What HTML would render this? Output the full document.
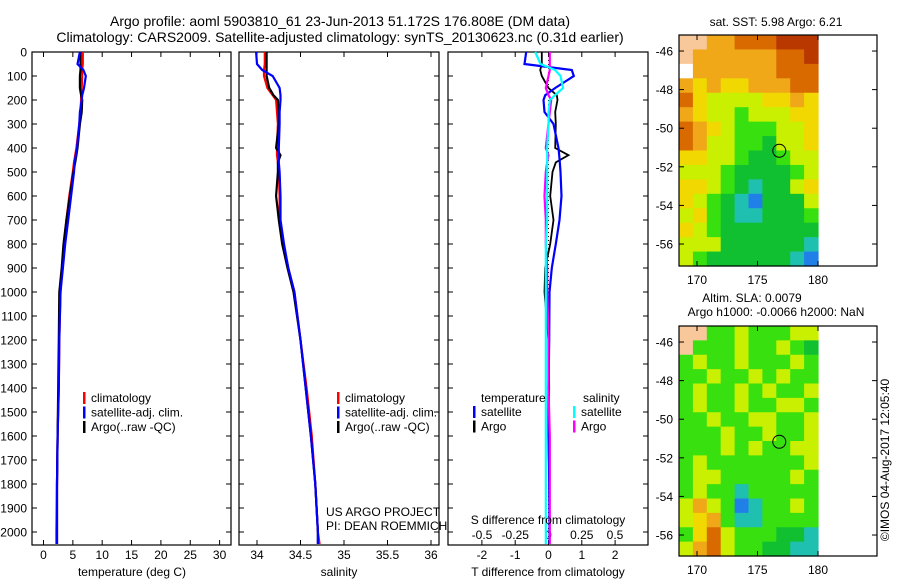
<!DOCTYPE html>
<html><head><meta charset="utf-8">
<style>
html,body{margin:0;padding:0;background:#fff;}
svg{display:block;font-family:"Liberation Sans",sans-serif;}
text{fill:#000;}
</style></head>
<body>
<svg id="fig" width="900" height="580" viewBox="0 0 900 580" xmlns="http://www.w3.org/2000/svg">
<text x="340" y="26" font-size="14" text-anchor="middle">Argo profile: aoml 5903810_61 23-Jun-2013 51.172S 176.808E (DM data)</text>
<text x="340" y="42" font-size="14" text-anchor="middle">Climatology: CARS2009. Satellite-adjusted climatology: synTS_20130623.nc (0.31d earlier)</text>
<g id="g1"></g>
<g id="g2"></g>
<g id="g3"></g>
<g id="m1"></g>
<g id="m2"></g>
<text transform="translate(889,460) rotate(-90)" font-size="12" text-anchor="middle">©IMOS 04-Aug-2017 12:05:40</text>
</svg>
<script>
// ---- data ----
const depths = [0,50,75,100,150,180,200,250,300,400,430,460,500,600,700,800,900,1000,1200,1400,1600,1800,2000,2050];
const tempClim = [6.7,6.7,6.6,6.6,6.5,6.4,6.4,6.3,6.1,5.6,5.4,5.2,5.0,4.4,3.9,3.5,3.2,2.9,2.7,2.6,2.4,2.3,2.2,2.2];
const tempArgo = [6.3,6.3,6.3,6.2,6.2,6.4,6.6,6.5,6.2,5.8,5.6,5.4,5.1,4.5,3.9,3.4,3.1,2.7,2.6,2.5,2.4,2.3,2.3,2.3];
const tempSat  = [6.2,5.8,6.8,7.2,6.9,6.6,6.5,6.2,6.1,5.7,5.5,5.3,5.2,4.7,4.2,3.7,3.3,2.9,2.7,2.6,2.4,2.3,2.3,2.3];
const salClim = [34.09,34.09,34.08,34.08,34.12,34.18,34.22,34.23,34.24,34.23,34.23,34.24,34.25,34.26,34.26,34.30,34.36,34.43,34.50,34.57,34.63,34.67,34.70,34.72];
const salArgo = [34.11,34.11,34.11,34.11,34.14,34.19,34.24,34.25,34.25,34.22,34.27,34.24,34.24,34.22,34.25,34.29,34.35,34.42,34.50,34.56,34.62,34.67,34.70,34.70];
const salSat  = [33.99,34.00,34.06,34.18,34.26,34.27,34.27,34.26,34.26,34.25,34.25,34.25,34.26,34.27,34.27,34.31,34.36,34.43,34.50,34.56,34.62,34.67,34.70,34.70];
const dTSat  = [-0.67,-0.72,0.7,0.76,0.2,-0.1,-0.15,-0.12,0.15,0.3,0.32,0.34,0.36,0.39,0.33,0.22,0.1,0.03,0.02,0.0,0.0,0.02,0.03,0.03];
const dTArgo = [-0.2,-0.2,-0.25,-0.2,0.0,0.25,0.27,0.2,0.22,0.2,0.6,0.22,0.12,0.05,0.15,0.05,-0.1,-0.12,0.0,0.02,0.0,0.02,0.03,0.03];
const dSSat  = [-0.1,-0.06,0.05,0.09,0.11,0.05,0.01,0.0,0.0,-0.01,-0.01,-0.01,-0.01,-0.01,-0.01,-0.02,-0.02,-0.02,-0.02,-0.02,-0.02,-0.02,-0.02,-0.02];
const dSArgo = [0.01,0.01,0.01,0.0,-0.02,0.0,0.02,0.01,0.0,-0.02,0.0,-0.01,-0.02,-0.03,-0.02,-0.02,-0.01,-0.01,0.0,0.0,0.01,0.01,0.01,0.01];
const depthTicks = [0,100,200,300,400,500,600,700,800,900,1000,1100,1200,1300,1400,1500,1600,1700,1800,1900,2000];
const tempTicks = [0,5,10,15,20,25,30];
const salTicks = [34,34.5,35,35.5,36];
const salTickLabels = ["34","34.5","35","35.5","36"];
const dTTicks = [-2,-1,0,1,2];
const dSTicks = [-0.5,-0.25,0,0.25,0.5];
const lonTicks = [170,175,180];
const latTicks = [-46,-48,-50,-52,-54,-56];
const sstGrid = [
"LLooOOORRR","LooooooOOR","WooooooOOO","oYoYYoooOO","OYyyyyYYoY","oYyygyyyYY","OoYygggyyY","OoyyggGyyY",
"YYyygGGgyy","yyygGGGGgy","YYygGcGGyY","YygGcbGGGy","yYgGccGGGg","YygGGGGGGG","yyyGGGGGGc","ygGGGGGGcb"];
const slaGrid = [
"LLggygggyy","LgggyggygG","gyggygggyg","ggyggygygg","gyggygyggy","gyggyggyyg","ggyggyyggy","gggyggyggy",
"gggygyggyy","gygggggggy","gyygggggyg","gyggcggggg","yoygbcggyg","yYogccgggg","gYOygggGGc","yoOyggGGcc"];
// ---- scales ----
const y0=52, pxPer100=24;
const yD = d => y0 + d*pxPer100/100;
const xT = t => 43.5 + t*5.87;
const xS = s => 257 + (s-34)*87;
const xDT = t => 548.5 + t*33.3;
const xDS = s => 548.5 + s*133;
const NS='http://www.w3.org/2000/svg';
function el(tag, attrs, parent, txt){
  const e=document.createElementNS(NS,tag);
  for(const k in attrs) e.setAttribute(k,attrs[k]);
  if(txt!==undefined) e.textContent=txt;
  parent.appendChild(e); return e;
}
function frame(g,x0,x1,yb){
  const r=el('rect',{x:x0,y:y0,width:x1-x0,height:yb-y0,fill:'none',stroke:'#000','stroke-width':1.2},g);
  
  
}
function line(g,xs,scale,color,name,w){
  const pts=xs.map((v,i)=>scale(v).toFixed(1)+','+yD(depths[i]).toFixed(1)).join(' ');
  const p=el('polyline',{points:pts,fill:'none',stroke:color,'stroke-width':w||2.2},g);
  
  
}
function xticks(g,ticks,labels,scale,yb,ly){
  ticks.forEach((t,i)=>{
    const x=scale(t);
    el('line',{x1:x,x2:x,y1:yb,y2:yb-5,stroke:'#000'},g);
    el('line',{x1:x,x2:x,y1:y0,y2:y0+5,stroke:'#000'},g);
    const tx=el('text',{x:x,y:ly,'font-size':12,'text-anchor':'middle'},g,labels[i]);
    
    
  });
}
function legend(g,x,y,items){
  items.forEach((it,i)=>{
    el('rect',{x:x,y:y+i*14.5-10,width:2.5,height:12,fill:it[0]},g);
    const t=el('text',{x:x+8,y:y+i*14.5,'font-size':12},g,it[1]);
    
    
  });
}
const yb=545;
// Panel 1
const g1=document.getElementById('g1');
frame(g1,32,231,yb);
depthTicks.forEach(d=>{
  el('line',{x1:32,x2:37,y1:yD(d),y2:yD(d),stroke:'#000'},g1);
  el('line',{x1:231,x2:226,y1:yD(d),y2:yD(d),stroke:'#000'},g1);
  const t=el('text',{x:27,y:yD(d)+4.5,'font-size':12,'text-anchor':'end'},g1,String(d));
  
  
});
xticks(g1,tempTicks,tempTicks.map(String),xT,yb,559);
line(g1,tempClim,xT,'#f00','temp-climatology-line');
line(g1,tempArgo,xT,'#000','temp-argo-line');
line(g1,tempSat,xT,'#00f','temp-satellite-line');
legend(g1,83,402,[['#f00','climatology'],['#00f','satellite-adj. clim.'],['#000','Argo(..raw -QC)']]);
let t=el('text',{x:132,y:576,'font-size':12,'text-anchor':'middle'},g1,'temperature (deg C)');


// Panel 2
const g2=document.getElementById('g2');
frame(g2,239,439,yb);
depthTicks.forEach(d=>{
  el('line',{x1:239,x2:244,y1:yD(d),y2:yD(d),stroke:'#000'},g2);
  el('line',{x1:439,x2:434,y1:yD(d),y2:yD(d),stroke:'#000'},g2);
});
xticks(g2,salTicks,salTickLabels,xS,yb,559);
line(g2,salClim,xS,'#f00','sal-climatology-line');
line(g2,salArgo,xS,'#000','sal-argo-line');
line(g2,salSat,xS,'#00f','sal-satellite-line');
legend(g2,337,402,[['#f00','climatology'],['#00f','satellite-adj. clim.'],['#000','Argo(..raw -QC)']]);
t=el('text',{x:339,y:576,'font-size':12,'text-anchor':'middle'},g2,'salinity');


t=el('text',{x:326,y:516,'font-size':12},g2,'US ARGO PROJECT');


t=el('text',{x:326,y:530,'font-size':12},g2,'PI: DEAN ROEMMICH');


// Panel 3
const g3=document.getElementById('g3');
frame(g3,448,648,yb);
depthTicks.forEach(d=>{
  el('line',{x1:448,x2:453,y1:yD(d),y2:yD(d),stroke:'#000'},g3);
  el('line',{x1:648,x2:643,y1:yD(d),y2:yD(d),stroke:'#000'},g3);
});
xticks(g3,dTTicks,dTTicks.map(String),xDT,yb,559);
dSTicks.forEach(s=>{
  const tx=el('text',{x:xDS(s),y:539,'font-size':12,'text-anchor':'middle'},g3,String(s));
  
  
});
el('line',{x1:548.5,x2:548.5,y1:y0,y2:yb,stroke:'#000','stroke-dasharray':'1,3'},g3);
line(g3,dTArgo,xDT,'#000','tdiff-argo-line',1.8);
line(g3,dTSat,xDT,'#00f','tdiff-satellite-line',2.2);
line(g3,dSArgo,xDS,'#f0f','sdiff-argo-line',2.2);
line(g3,dSSat,xDS,'#0ff','sdiff-satellite-line',2.2);
t=el('text',{x:481,y:402,'font-size':12},g3,'temperature');


t=el('text',{x:583,y:402,'font-size':12},g3,'salinity');


legend(g3,473,416,[['#00f','satellite'],['#000','Argo']]);
legend(g3,573,416,[['#0ff','satellite'],['#f0f','Argo']]);
t=el('text',{x:548,y:524,'font-size':12,'text-anchor':'middle'},g3,'S difference from climatology');


t=el('text',{x:548,y:576,'font-size':12,'text-anchor':'middle'},g3,'T difference from climatology');


// Maps
const colors={L:'#f8c89a',W:'#ffffff',R:'#b83800',O:'#d86a00',o:'#f0a818',Y:'#f0d800',y:'#c8f000',g:'#38e010',G:'#10c030',c:'#20c0b0',b:'#2080e8'};
const mLon = l => 697 + (l-170)*12.1;
function map(g,top,bot,grid,title1,title2,circLat){
  const mLat = la => top + (-45.17-la)*19.3;
  const cols=grid[0].length, rows=grid.length;
  const cw=(818-679)/cols, ch=(bot-top)/rows;
  grid.forEach((row,r)=>{
    [...row].forEach((c,k)=>{
      const cell=el('rect',{x:679+k*cw,y:top+r*ch,width:cw+0.6,height:ch+0.6,fill:colors[c]},g);
      
      
    });
  });
  const fr=el('rect',{x:679,y:top,width:198,height:bot-top,fill:'none',stroke:'#000','stroke-width':1.2},g);
  
  
  lonTicks.forEach(l=>{
    const x=mLon(l);
    el('line',{x1:x,x2:x,y1:bot,y2:bot-5,stroke:'#000'},g);
    el('line',{x1:x,x2:x,y1:top,y2:top+5,stroke:'#000'},g);
    const tx=el('text',{x:x,y:bot+18,'font-size':12,'text-anchor':'middle'},g,String(l));
    
    
  });
  latTicks.forEach(la=>{
    const y=mLat(la);
    el('line',{x1:679,x2:684,y1:y,y2:y,stroke:'#000'},g);
    el('line',{x1:877,x2:872,y1:y,y2:y,stroke:'#000'},g);
    const tx=el('text',{x:673,y:y+4.5,'font-size':12,'text-anchor':'end'},g,String(la));
    
    
  });
  const c=el('circle',{cx:mLon(176.8),cy:mLat(circLat),r:6.5,fill:'none',stroke:'#000'},g);
  
  
  if(title2){
    let a=el('text',{x:752,y:top-24,'font-size':12,'text-anchor':'middle'},g,title1);
    
    
    a=el('text',{x:776,y:top-10,'font-size':12,'text-anchor':'middle'},g,title2);
    
    
  } else {
    const a=el('text',{x:776,y:top-9,'font-size':12,'text-anchor':'middle'},g,title1);
    
    
  }
}
map(document.getElementById('m1'),35,266,sstGrid,'sat. SST: 5.98 Argo: 6.21',null,-51.17);
map(document.getElementById('m2'),326,556,slaGrid,'Altim. SLA: 0.0079','Argo h1000: -0.0066 h2000: NaN',-51.17);
</script>
</body></html>
